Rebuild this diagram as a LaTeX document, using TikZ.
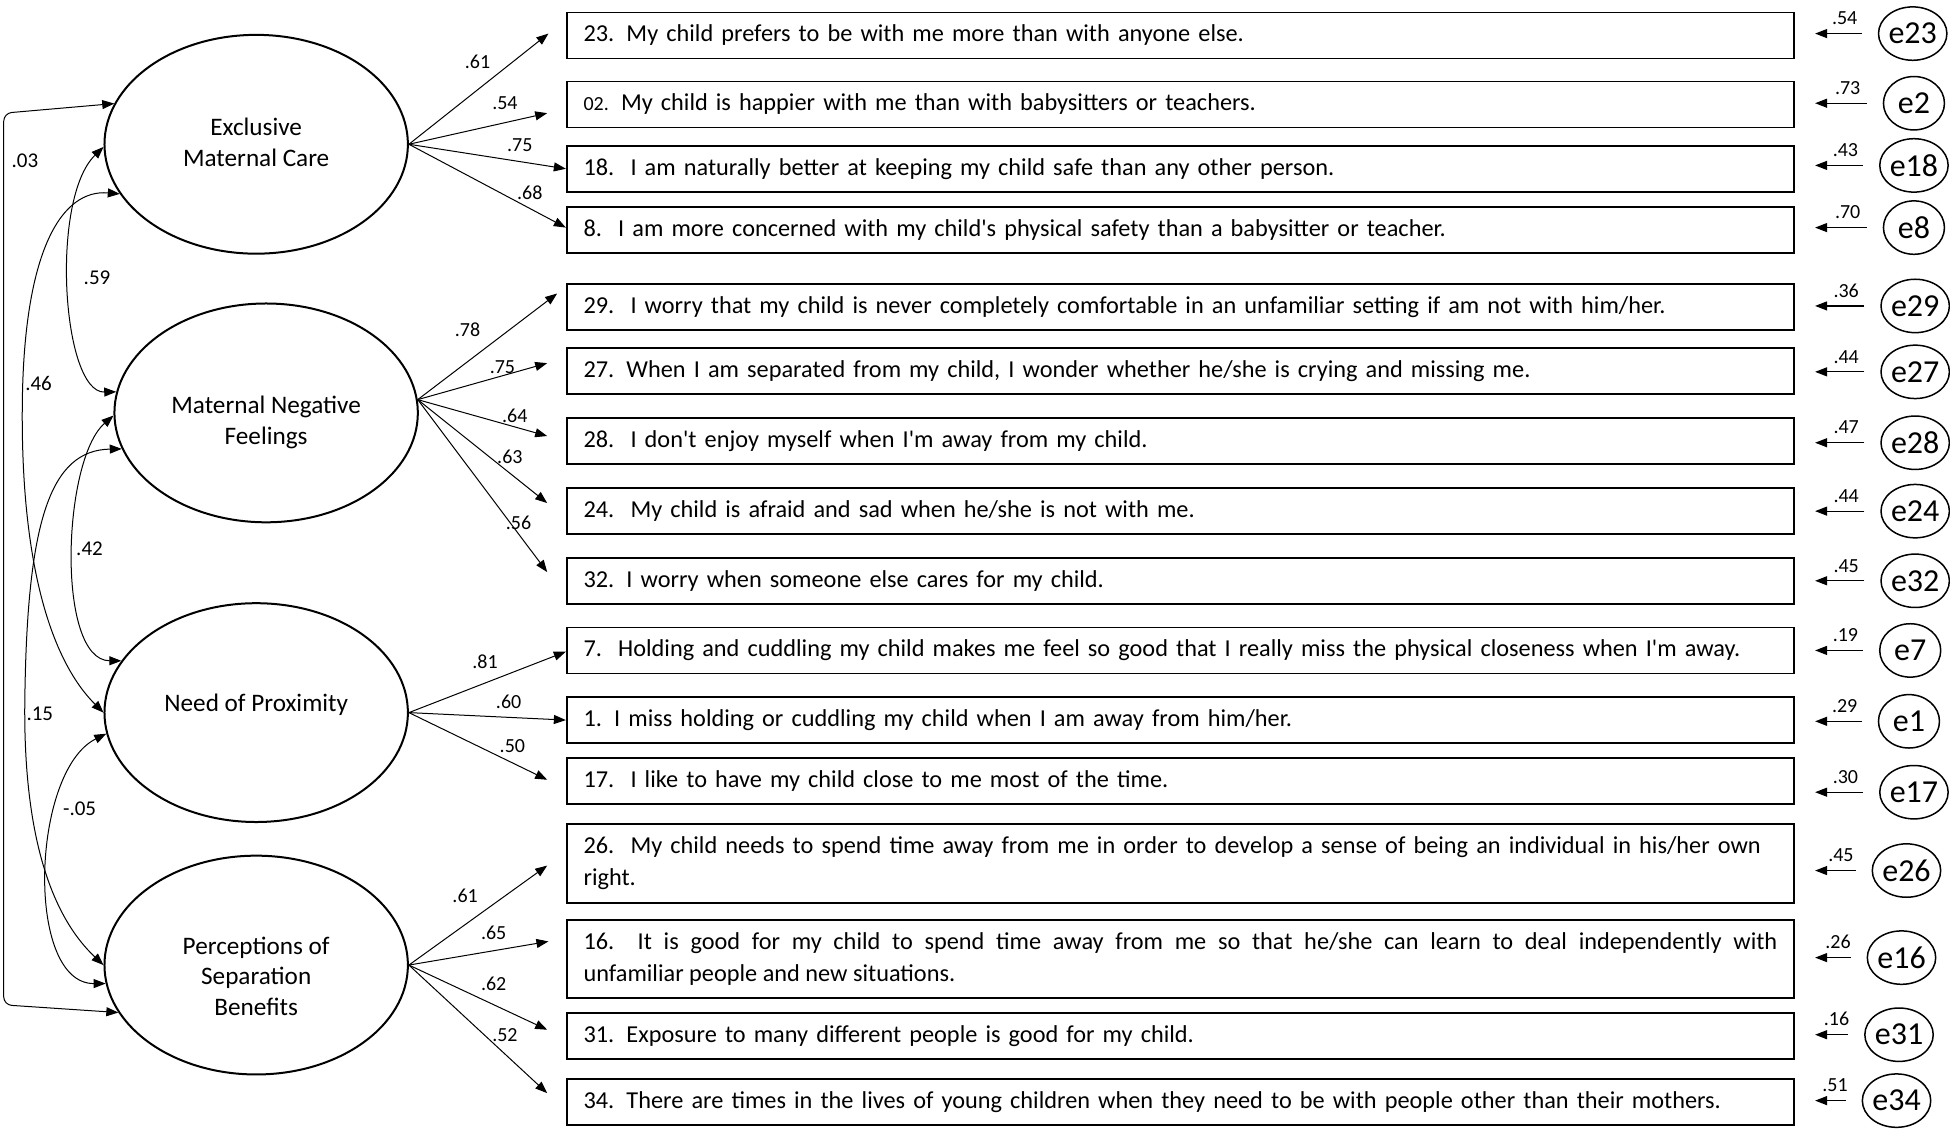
\documentclass[tikz,border=0pt]{standalone}
\usepackage{fontspec}
\setmainfont{Carlito}
\usetikzlibrary{shapes.geometric,arrows.meta}

\begin{document}
\begin{tikzpicture}[x=0.6218pt,y=-0.6218pt,
    latent/.style={draw,ellipse,line width=1pt,inner sep=0pt,minimum width=151.7pt,minimum height=109.4pt},
    ltext/.style={align=center,inner sep=0pt,font=\fontsize{12.6}{15.3}\selectfont},
    item/.style={draw,rectangle,line width=0.9pt,anchor=west,inner xsep=8.4pt,inner ysep=0pt,text width=596.9pt,minimum height=23pt,align=left,font=\fontsize{12.15}{16}\selectfont},
    errc/.style={draw,ellipse,line width=0.75pt,inner sep=0pt,minimum width=30.5pt,minimum height=26.7pt,font=\fontsize{16}{18}\selectfont},
    load/.style={-{Triangle[length=6pt,width=4.5pt]},line width=0.5pt},
    cov/.style={{Triangle[length=6pt,width=4.5pt]}-{Triangle[length=6pt,width=4.5pt]},line width=0.5pt},
    errarr/.style={-{Triangle[length=6pt,width=4.5pt]},line width=0.6pt,shorten <=8pt,shorten >=10pt},
    coef/.style={font=\fontsize{10}{12}\selectfont,inner sep=1pt}]
    \useasboundingbox (0,0) rectangle (1568,915);
    %% latent factors
    \node[latent] (emc) at (206,116) {};
    \node[latent] (mnf) at (214,332) {};
    \node[latent] (nop) at (206,573) {};
    \node[latent] (psb) at (206,776) {};
    \node[ltext] (emct) at ([shift={(0,-1.5)}]emc.center) {Exclusive\\Maternal Care};
    \node[ltext] (mnft) at ([shift={(0,7.5)}]mnf.center) {Maternal Negative\\Feelings};
    \node[ltext] (nopt) at ([shift={(0,-6)}]nop.center) {Need of Proximity};
    \node[ltext] (psbt) at ([shift={(0,9)}]psb.center) {Perceptions of\\Separation\\Benefits};
    %% items
    \node[item] (i23) at (455,28.5) {23. My child prefers to be with me more than with anyone else.};
    \node[item] (i2) at (455,84) {{\fontsize{10}{12}\selectfont 02.} My child is happier with me than with babysitters or teachers.};
    \node[item] (i18) at (455,135.7) {18.\ \ I am naturally better at keeping my child safe than any other person.};
    \node[item] (i8) at (455,185) {8.\ \ I am more concerned with my child\textquotesingle s physical safety than a babysitter or teacher.};
    \node[item] (i29) at (455,247) {29.\ \ I worry that my child is never completely comfortable in an unfamiliar setting if am not with him/her.};
    \node[item] (i27) at (455,298.5) {27. When I am separated from my child, I wonder whether he/she is crying and missing me.};
    \node[item] (i28) at (455,354.6) {28.\ \ I don\textquotesingle t enjoy myself when I\textquotesingle m away from my child.};
    \node[item] (i24) at (455,411) {24.\ \ My child is afraid and sad when he/she is not with me.};
    \node[item] (i32) at (455,467) {32. I worry when someone else cares for my child.};
    \node[item] (i7) at (455,523) {7.\ \ Holding and cuddling my child makes me feel so good that I really miss the physical closeness when I\textquotesingle m away.};
    \node[item] (i1) at (455,579) {1. I miss holding or cuddling my child when I am away from him/her.};
    \node[item] (i17) at (455,628) {17.\ \ I like to have my child close to me most of the time.};
    \node[item,minimum height=39.2pt] (i26) at (455,694.4) {26.\ \ My child needs to spend time away from me in order to develop a sense of being an individual in his/her own\\right.};
    \node[item,minimum height=39.2pt,align=justify] (i16) at (455,771) {16.\ \ It is good for my child to spend time away from me so that he/she can learn to deal independently with\linebreak unfamiliar people and new situations.};
    \node[item] (i31) at (455,833) {31. Exposure to many different people is good for my child.};
    \node[item] (i34) at (455,886) {34. There are times in the lives of young children when they need to be with people other than their mothers.};
    %% loadings
    \foreach \s/\bx/\dx/\dy/\v/\lx/\ly in {emc.east/i23/-14/-1.5/.61/384/50, emc.east/i2/-15/7/.54/406/83,
        emc.east/i18/0/0/.75/418/117, emc.east/i8/0/-2/.68/426/155,
        mnf.5/i29/-7/-11/.78/376/265, mnf.5/i27/-15/-6.5/.75/404/295, mnf.5/i28/-15/-4/.64/414/334,
        mnf.5/i24/-15/-6.5/.63/410/367, mnf.5/i32/-15/-7/.56/417/420,
        nop.east/i7/0/1/.81/390/532, nop.east/i1/0/0/.60/409/564, nop.east/i17/-15/-1/.50/412/600,
        psb.east/i26/-15/1.6/.61/374/720, psb.east/i16/-14/-14/.65/397/750,
        psb.east/i31/-15/-5/.62/397/791, psb.east/i34/-15/-7/.52/406/832}
    {
        \draw[load] (\s) -- ([shift={(\dx,\dy)}]\bx.west);
        \node[coef] at (\lx,\ly) {\v};
    }
    %% errors
    \foreach \n/\xx/\yy/\v in {23/1538/27/.54, 2/1539/83/.73, 18/1539/133/.43, 8/1539/183/.70,
        29/1540/246/.36, 27/1540/299/.44, 28/1540/356/.47, 24/1540/411/.44, 32/1540/467/.45,
        7/1536/523/.19, 1/1535/580/.29, 17/1539/637/.30,
        26/1533/700/.45, 16/1529/770/.26, 31/1527/832/.16, 34/1525/885/.51}
    {
        \node[errc] (e\n) at (\xx,\yy) {e\n};
        \draw[errarr] (e\n.west) -- (e\n.west -| i\n.east) node[coef,pos=0.4,above=3pt] {\v};
    }
    %% covariances
    \draw[cov,rounded corners=4pt] (emc.164) -- (3,91) -- (3,808) -- (psb.199);
    \draw[cov] (emc.181) .. controls (40,160) and (50,316) .. (mnf.172);
    \draw[cov] (emc.200) .. controls (50,152) and (20,200) .. (18,320) .. controls (16,450) and (40,530) .. (nop.180);
    \draw[cov] (mnf.181) .. controls (50,370) and (45,531) .. (nop.159);
    \draw[cov] (mnf.194) .. controls (40,362) and (22,420) .. (20,560) .. controls (18,680) and (45,740) .. (psb.180);
    \draw[cov] (nop.188) .. controls (25,620) and (20,791) .. (psb.187);
    \foreach \v/\xx/\yy in {.03/20/129, .59/78/223, .46/31/308, .42/72/441, .15/32/574, -.05/64/650}
        \node[coef,font=\fontsize{10.5}{12}\selectfont] at (\xx,\yy) {\v};
\end{tikzpicture}
\end{document}
